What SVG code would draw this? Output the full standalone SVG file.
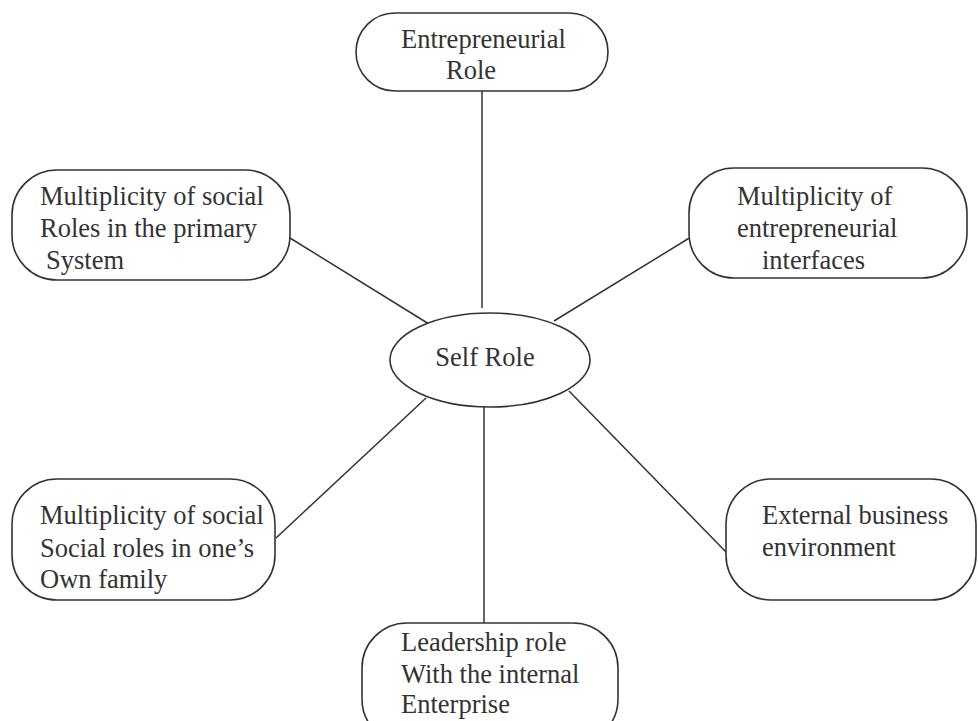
<svg xmlns="http://www.w3.org/2000/svg" width="978" height="721" viewBox="0 0 978 721">
<style>
.box{fill:#fff;stroke:#333;stroke-width:1.6}
.ln{stroke:#333;stroke-width:1.5;fill:none}
text{font-family:"Liberation Serif","DejaVu Serif",serif;font-size:26.5px;fill:#333}
</style>
<rect width="978" height="721" fill="#fff"/>
<g id="connectors">
<line class="ln" x1="482" y1="91" x2="482" y2="308"/>
<line class="ln" x1="290" y1="238" x2="429" y2="324"/>
<line class="ln" x1="691" y1="237" x2="554" y2="321"/>
<line class="ln" x1="426" y1="398" x2="276" y2="538"/>
<line class="ln" x1="569" y1="391" x2="726" y2="552"/>
<line class="ln" x1="484" y1="407" x2="484" y2="623"/>
</g>
<g id="entrepreneurial-role">
<rect class="box" x="356" y="13" width="252" height="78" rx="39" ry="39"/>
<text x="401" y="48">Entrepreneurial</text>
<text x="446" y="79">Role</text>
</g>
<g id="social-roles-primary">
<rect class="box" x="12" y="170" width="278" height="110" rx="45" ry="45"/>
<text x="40" y="205">Multiplicity of social</text>
<text x="40" y="237">Roles in the primary</text>
<text x="46" y="269">System</text>
</g>
<g id="entrepreneurial-interfaces">
<rect class="box" x="689" y="168" width="278" height="110" rx="45" ry="45"/>
<text x="737" y="205">Multiplicity of</text>
<text x="737" y="237">entrepreneurial</text>
<text x="762" y="269">interfaces</text>
</g>
<g id="self-role">
<ellipse class="box" cx="490" cy="360" rx="100" ry="47"/>
<text x="485" y="366" text-anchor="middle">Self Role</text>
</g>
<g id="social-roles-family">
<rect class="box" x="12" y="479" width="263" height="121" rx="45" ry="45"/>
<text x="40" y="524">Multiplicity of social</text>
<text x="40" y="557">Social roles in one’s</text>
<text x="40" y="588">Own family</text>
</g>
<g id="external-environment">
<rect class="box" x="726" y="479" width="250" height="121" rx="45" ry="45"/>
<text x="762" y="524">External business</text>
<text x="762" y="556">environment</text>
</g>
<g id="leadership-role">
<rect class="box" x="362" y="623" width="256" height="121" rx="45" ry="45"/>
<text x="401" y="651">Leadership role</text>
<text x="401" y="683">With the internal</text>
<text x="401" y="713">Enterprise</text>
</g>
</svg>
